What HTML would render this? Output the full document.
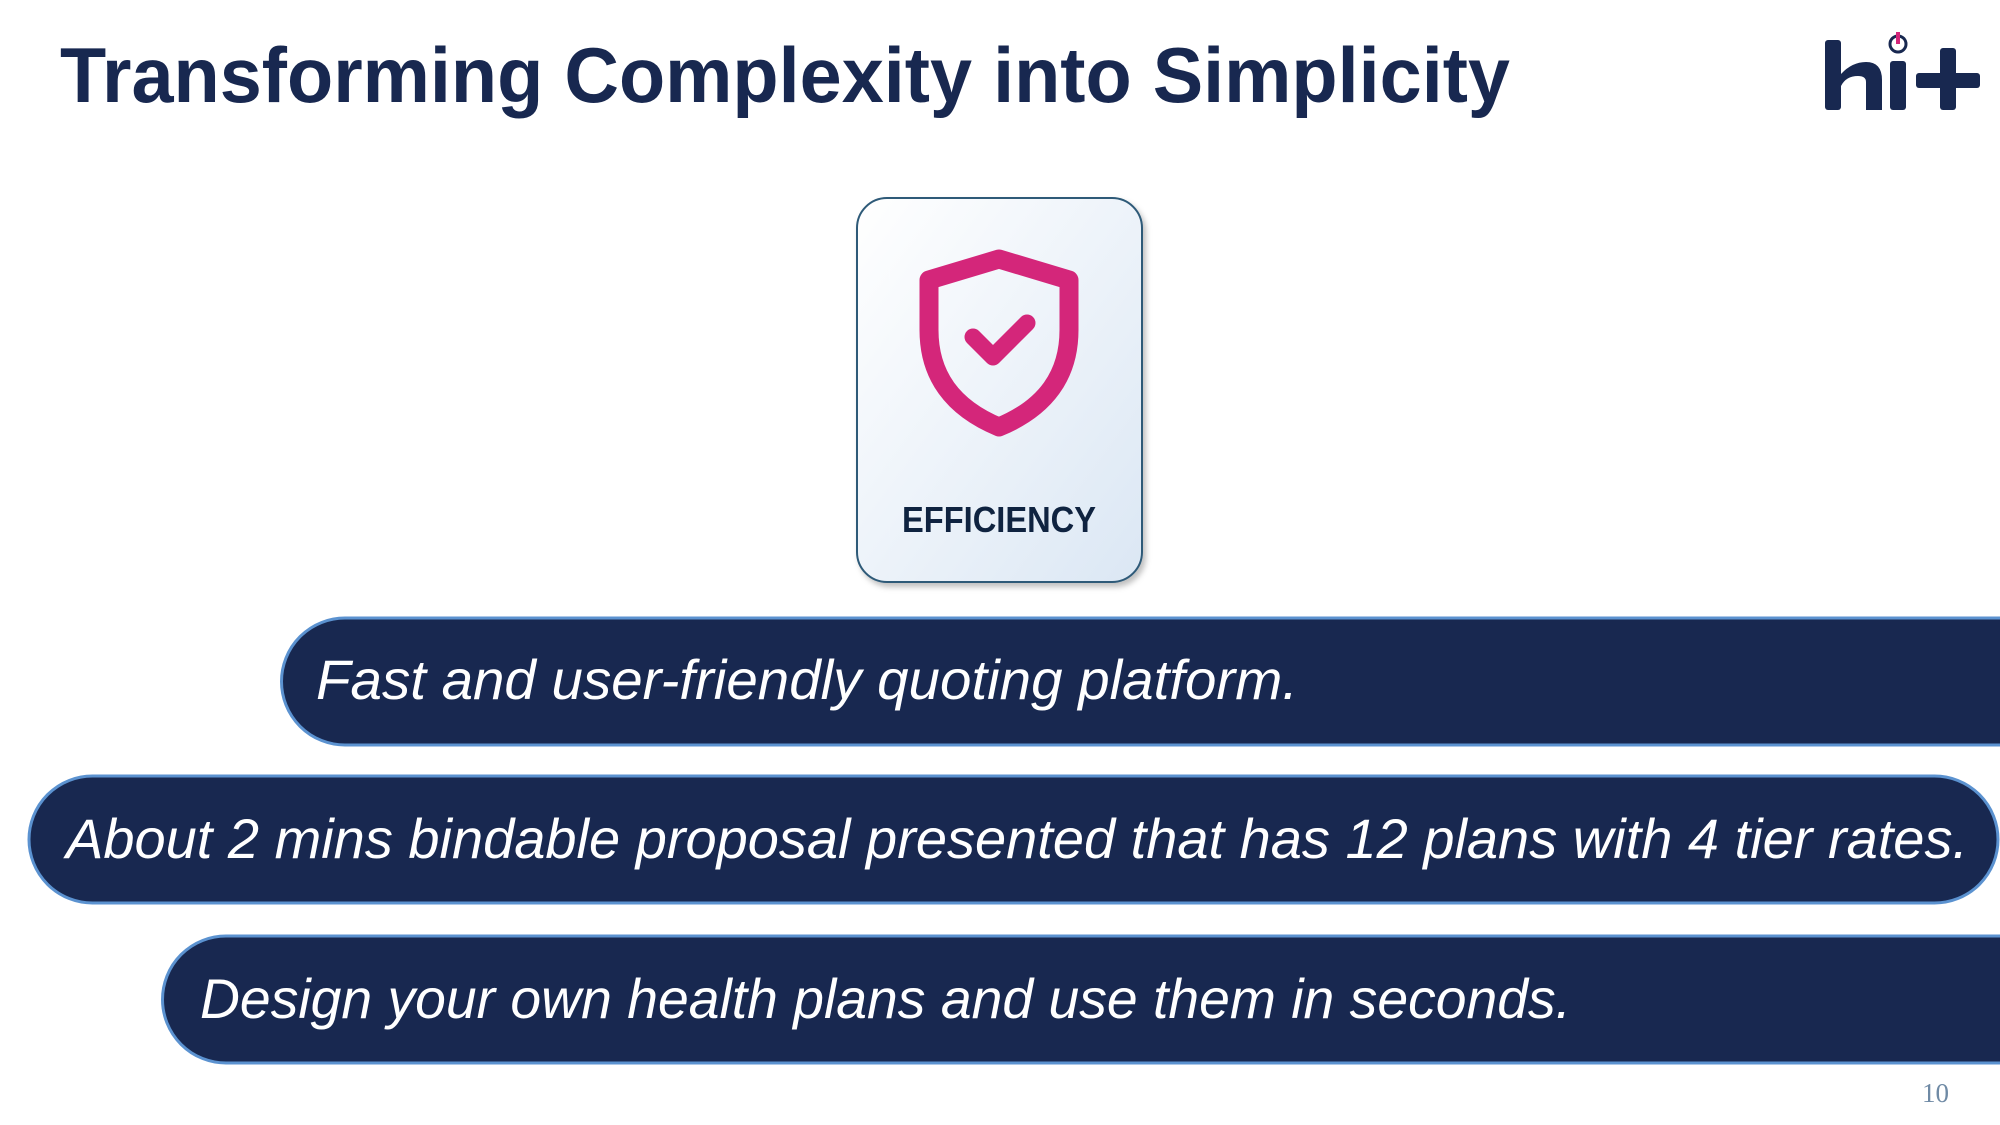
<!DOCTYPE html>
<html><head><meta charset="utf-8"><style>
html,body{margin:0;padding:0;background:#fff;}
svg{display:block}
</style></head><body>
<svg width="2000" height="1125" viewBox="0 0 2000 1125" xmlns="http://www.w3.org/2000/svg">
<defs>
<linearGradient id="cg" x1="0" y1="0" x2="1" y2="1">
<stop offset="0" stop-color="#ffffff"/><stop offset="1" stop-color="#dbe7f4"/>
</linearGradient>
<filter id="sh" x="-10%" y="-10%" width="130%" height="130%"><feDropShadow dx="3" dy="4" stdDeviation="3" flood-color="#000" flood-opacity="0.25"/></filter>
</defs>
<text x="60" y="102" font-family="Liberation Sans, sans-serif" font-weight="bold" font-size="78" fill="#182850" textLength="1450" lengthAdjust="spacingAndGlyphs">Transforming Complexity into Simplicity</text>
<g fill="#182850">
<rect x="1825" y="40" width="16" height="70" rx="3"/>
<path d="M1841 74 Q1852 62 1866 62 Q1882 62 1882 80 L1882 110 L1866 110 L1866 82 Q1866 76 1858 76 Q1846 76 1841 86 Z"/>
<rect x="1890" y="61" width="16" height="49" rx="3"/>
<rect x="1916" y="73" width="64" height="15" rx="3"/>
<rect x="1940" y="48" width="16" height="62" rx="3"/>
</g>
<circle cx="1898" cy="44" r="8" fill="none" stroke="#182850" stroke-width="3"/>
<rect x="1896" y="32" width="4" height="12" fill="#d4267a"/>
<rect x="857" y="198" width="285" height="384" rx="30" fill="url(#cg)" stroke="#2f5a78" stroke-width="2" filter="url(#sh)"/>
<path d="M999 259 L1069 280 L1069 330 Q1069 398 999 427 Q929 398 929 330 L929 280 Z" fill="none" stroke="#d4267a" stroke-width="19" stroke-linejoin="round"/>
<path d="M973 337 L993 357 L1027 323" fill="none" stroke="#d4267a" stroke-width="17" stroke-linecap="round" stroke-linejoin="round"/>
<text x="999" y="532" text-anchor="middle" font-family="Liberation Sans, sans-serif" font-weight="bold" font-size="36" fill="#0f2340" textLength="194" lengthAdjust="spacingAndGlyphs">EFFICIENCY</text>
<g fill="#182850" stroke="#5b92d0" stroke-width="3">
<path d="M2003 618 L345 618 A63.5 63.5 0 0 0 345 745 L2003 745 Z"/>
<rect x="29" y="776" width="1969" height="127" rx="63.5"/>
<path d="M2003 936 L226 936 A63.5 63.5 0 0 0 226 1063 L2003 1063 Z"/>
</g>
<g font-family="Liberation Sans, sans-serif" font-style="italic" font-size="56" fill="#fff">
<text x="316" y="699" textLength="982" lengthAdjust="spacingAndGlyphs">Fast and user-friendly quoting platform.</text>
<text x="66" y="858" textLength="1902" lengthAdjust="spacingAndGlyphs">About 2 mins bindable proposal presented that has 12 plans with 4 tier rates.</text>
<text x="200" y="1018" textLength="1371" lengthAdjust="spacingAndGlyphs">Design your own health plans and use them in seconds.</text>
</g>
<text x="1922" y="1102" font-family="Liberation Serif, serif" font-size="27" fill="#6f8aa5">10</text>
</svg>
</body></html>
